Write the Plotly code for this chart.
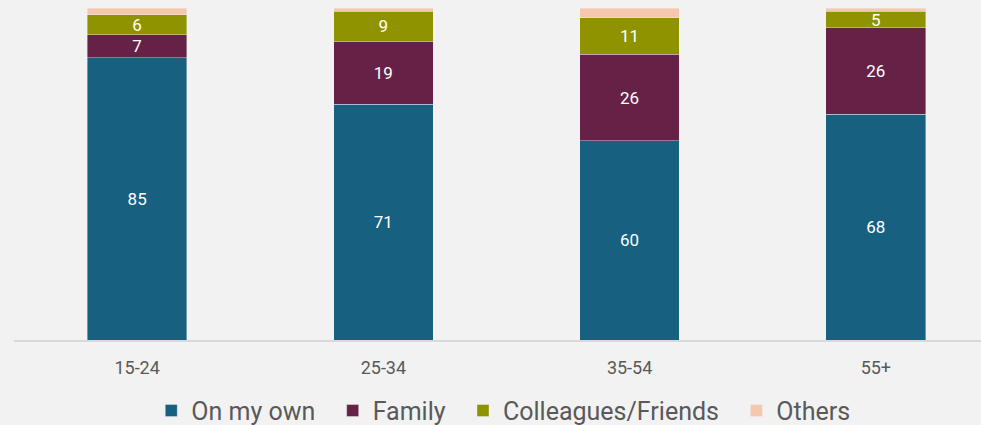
import plotly.graph_objects as go

age_groups = ["15-24", "25-34", "35-54", "55+"]
on_my_own = [85, 71, 60, 68]
family = [7, 19, 26, 26]
colleagues_friends = [6, 9, 11, 5]
others = [2, 1, 3, 1]

series = [
    ("On my own", on_my_own, "#17607F", True),
    ("Family", family, "#662147", True),
    ("Colleagues/Friends", colleagues_friends, "#8F9300", True),
    ("Others", others, "#F5C7AF", False),
]

font_family = "Roboto, Liberation Sans, sans-serif"
pad = "\u00a0\u00a0"  # extra room after each legend entry

fig = go.Figure()
for i, (name, vals, color, labelled) in enumerate(series):
    fig.add_trace(go.Bar(
        x=age_groups,
        y=vals,
        name=name + (pad if i < len(series) - 1 else ""),
        width=0.405,
        marker=dict(color=color, line=dict(color="rgba(242,242,242,0.5)", width=0.8)),
        text=[str(v) for v in vals] if labelled else None,
        textposition="inside" if labelled else "none",
        insidetextanchor="middle",
        textangle=0,
        constraintext="none",
        textfont=dict(color="white", size=17, family=font_family),
        hoverinfo="skip",
    ))

fig.update_layout(
    barmode="stack",
    width=981,
    height=425,
    margin=dict(l=14, r=0, t=8, b=85, autoexpand=False),
    paper_bgcolor="#F2F2F2",
    plot_bgcolor="#F2F2F2",
    xaxis=dict(
        range=[-0.5, 3.427],
        showgrid=False,
        showline=True,
        linecolor="#D9D9D9",
        linewidth=1.5,
        ticks="",
        tickfont=dict(size=18, color="#595959", family=font_family),
        ticklabelstandoff=11,
    ),
    yaxis=dict(
        range=[0, 100],
        visible=False,
    ),
    legend=dict(
        orientation="h",
        x=0.513,
        xanchor="center",
        xref="container",
        y=-0.144,
        yanchor="top",
        yref="paper",
        font=dict(size=25, color="#595959", family=font_family),
        traceorder="normal",
        itemwidth=30,
    ),
    showlegend=True,
)

fig.write_html("out.html")
